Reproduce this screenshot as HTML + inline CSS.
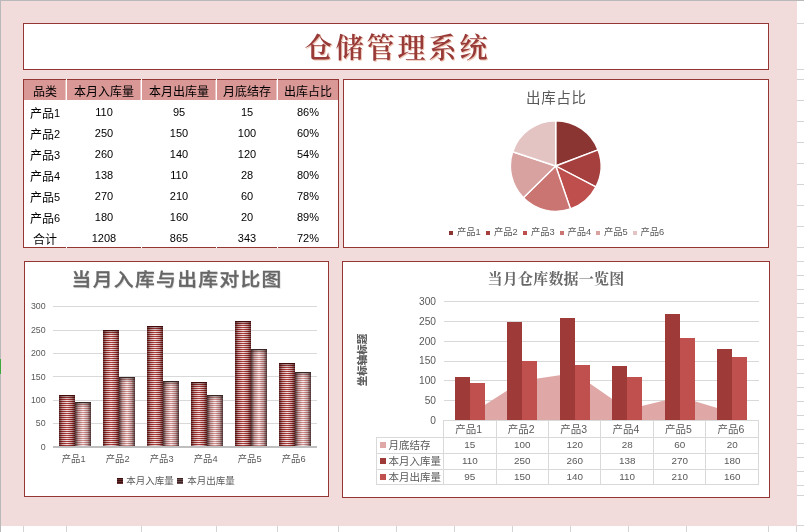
<!DOCTYPE html>
<html lang="zh-CN"><head><meta charset="utf-8"><title>仓储管理系统</title>
<style>
html,body{margin:0;padding:0;}
body{width:804px;height:532px;position:relative;overflow:hidden;background:#fff;font-family:"Liberation Sans","Noto Sans CJK SC",sans-serif;}
.a{position:absolute;}
.box{position:absolute;background:#fff;border:1px solid #943634;box-sizing:border-box;}
.hl{position:absolute;height:1px;background:#D4D4D4;}
.vl{position:absolute;width:1px;background:#D4D4D4;}
.th{position:absolute;top:80px;height:20px;background:#D99795;color:#000;font-size:12px;line-height:25px;overflow:hidden;text-align:center;white-space:nowrap;}
.td{position:absolute;height:21px;line-height:24px;font-size:12px;color:#000;text-align:center;white-space:nowrap;}
.n{font-size:11px;}
.c{position:relative;top:1.5px;}
.ax{position:absolute;font-size:9px;color:#595959;line-height:10px;white-space:nowrap;}
.gl{position:absolute;height:1px;background:#D9D9D9;}
.b1{position:absolute;background:linear-gradient(to bottom,rgba(40,0,0,.35),rgba(40,0,0,0) 4px),linear-gradient(to right,rgba(50,0,0,.72),rgba(60,0,0,.25) 22%,rgba(255,255,255,.08) 50%,rgba(60,0,0,.25) 78%,rgba(50,0,0,.72)),repeating-linear-gradient(to bottom,#F5DFDE 0,#F5DFDE 1px,#A5302E 1px,#A5302E 2px);border-top:1px solid #430a0a;box-sizing:border-box;}
.b2{position:absolute;background:linear-gradient(to bottom,rgba(30,10,10,.35),rgba(30,10,10,0) 4px),linear-gradient(to right,rgba(35,15,15,.78),rgba(60,20,20,.28) 22%,rgba(255,255,255,.08) 50%,rgba(60,20,20,.28) 78%,rgba(35,15,15,.78)),repeating-linear-gradient(to bottom,#FAEEEE 0,#FAEEEE 1px,#D08886 1px,#D08886 2px);border-top:1px solid #3a2525;box-sizing:border-box;}
.c1{position:absolute;background:#9E3B39;}
.c2{position:absolute;background:#C0504D;}
.dt{position:absolute;font-size:10.5px;color:#595959;line-height:16px;text-align:center;white-space:nowrap;}
</style></head><body>

<div class="a" style="left:0;top:0;width:804px;height:1px;background:#B9B9B9"></div>
<div class="a" style="left:0;top:0;width:1px;height:532px;background:#B9B9B9"></div>
<div class="a" style="left:0;top:359px;width:1px;height:15px;background:#3DA93D"></div>
<div class="hl" style="left:797px;top:23px;width:7px"></div>
<div class="hl" style="left:797px;top:69px;width:7px"></div>
<div class="hl" style="left:797px;top:79px;width:7px"></div>
<div class="hl" style="left:797px;top:100px;width:7px"></div>
<div class="hl" style="left:797px;top:121px;width:7px"></div>
<div class="hl" style="left:797px;top:142px;width:7px"></div>
<div class="hl" style="left:797px;top:163px;width:7px"></div>
<div class="hl" style="left:797px;top:184px;width:7px"></div>
<div class="hl" style="left:797px;top:205px;width:7px"></div>
<div class="hl" style="left:797px;top:226px;width:7px"></div>
<div class="hl" style="left:797px;top:247px;width:7px"></div>
<div class="hl" style="left:797px;top:261px;width:7px"></div>
<div class="hl" style="left:797px;top:275px;width:7px"></div>
<div class="hl" style="left:797px;top:289px;width:7px"></div>
<div class="hl" style="left:797px;top:303px;width:7px"></div>
<div class="hl" style="left:797px;top:317px;width:7px"></div>
<div class="hl" style="left:797px;top:331px;width:7px"></div>
<div class="hl" style="left:797px;top:345px;width:7px"></div>
<div class="hl" style="left:797px;top:359px;width:7px"></div>
<div class="hl" style="left:797px;top:373px;width:7px"></div>
<div class="hl" style="left:797px;top:387px;width:7px"></div>
<div class="hl" style="left:797px;top:401px;width:7px"></div>
<div class="hl" style="left:797px;top:415px;width:7px"></div>
<div class="hl" style="left:797px;top:429px;width:7px"></div>
<div class="hl" style="left:797px;top:443px;width:7px"></div>
<div class="hl" style="left:797px;top:457px;width:7px"></div>
<div class="hl" style="left:797px;top:471px;width:7px"></div>
<div class="hl" style="left:797px;top:485px;width:7px"></div>
<div class="hl" style="left:797px;top:495px;width:7px"></div>
<div class="hl" style="left:797px;top:525px;width:7px"></div>
<div class="vl" style="left:23px;top:526px;height:6px"></div>
<div class="vl" style="left:66px;top:526px;height:6px"></div>
<div class="vl" style="left:141px;top:526px;height:6px"></div>
<div class="vl" style="left:216px;top:526px;height:6px"></div>
<div class="vl" style="left:277px;top:526px;height:6px"></div>
<div class="vl" style="left:338px;top:526px;height:6px"></div>
<div class="vl" style="left:396px;top:526px;height:6px"></div>
<div class="vl" style="left:454px;top:526px;height:6px"></div>
<div class="vl" style="left:512px;top:526px;height:6px"></div>
<div class="vl" style="left:570px;top:526px;height:6px"></div>
<div class="vl" style="left:628px;top:526px;height:6px"></div>
<div class="vl" style="left:686px;top:526px;height:6px"></div>
<div class="vl" style="left:768px;top:526px;height:6px"></div>
<div class="vl" style="left:796px;top:526px;height:6px"></div>
<div class="a" style="left:1px;top:1px;width:796px;height:525px;background:#F2DCDB"></div>
<div class="box" style="left:23px;top:23px;width:746px;height:47px"></div>
<div class="a" id="title" style="left:23px;top:23px;width:746px;height:47px;line-height:52.5px;text-align:center;font-family:'Liberation Serif','Noto Serif CJK SC',serif;font-weight:600;font-size:28px;letter-spacing:3px;text-indent:3px;color:#983A38;text-shadow:1px 1px 0 rgba(236,190,170,.9);white-space:nowrap">仓储管理系统</div>
<div class="box" style="left:23px;top:79px;width:316px;height:169px"></div>
<div class="th" style="left:24px;width:42px">品类</div>
<div class="th" style="left:67px;width:74px">本月入库量</div>
<div class="th" style="left:142px;width:74px">本月出库量</div>
<div class="th" style="left:217px;width:60px">月底结存</div>
<div class="th" style="left:278px;width:60px">出库占比</div>
<div class="a" style="left:66px;top:79px;width:1px;height:169px;background:#fff"></div>
<div class="a" style="left:65px;top:80px;width:1px;height:20px;background:rgba(255,255,255,.45)"></div>
<div class="a" style="left:141px;top:79px;width:1px;height:169px;background:#fff"></div>
<div class="a" style="left:140px;top:80px;width:1px;height:20px;background:rgba(255,255,255,.45)"></div>
<div class="a" style="left:216px;top:79px;width:1px;height:169px;background:#fff"></div>
<div class="a" style="left:215px;top:80px;width:1px;height:20px;background:rgba(255,255,255,.45)"></div>
<div class="a" style="left:277px;top:79px;width:1px;height:169px;background:#fff"></div>
<div class="a" style="left:276px;top:80px;width:1px;height:20px;background:rgba(255,255,255,.45)"></div>
<div class="td" style="left:24px;top:100px;width:42px"><span class="c">产品</span><span class="n c" style="top:1px">1</span></div>
<div class="td n" style="left:67px;top:100px;width:74px">110</div>
<div class="td n" style="left:142px;top:100px;width:74px">95</div>
<div class="td n" style="left:217px;top:100px;width:60px">15</div>
<div class="td n" style="left:278px;top:100px;width:60px">86%</div>
<div class="td" style="left:24px;top:121px;width:42px"><span class="c">产品</span><span class="n c" style="top:1px">2</span></div>
<div class="td n" style="left:67px;top:121px;width:74px">250</div>
<div class="td n" style="left:142px;top:121px;width:74px">150</div>
<div class="td n" style="left:217px;top:121px;width:60px">100</div>
<div class="td n" style="left:278px;top:121px;width:60px">60%</div>
<div class="td" style="left:24px;top:142px;width:42px"><span class="c">产品</span><span class="n c" style="top:1px">3</span></div>
<div class="td n" style="left:67px;top:142px;width:74px">260</div>
<div class="td n" style="left:142px;top:142px;width:74px">140</div>
<div class="td n" style="left:217px;top:142px;width:60px">120</div>
<div class="td n" style="left:278px;top:142px;width:60px">54%</div>
<div class="td" style="left:24px;top:163px;width:42px"><span class="c">产品</span><span class="n c" style="top:1px">4</span></div>
<div class="td n" style="left:67px;top:163px;width:74px">138</div>
<div class="td n" style="left:142px;top:163px;width:74px">110</div>
<div class="td n" style="left:217px;top:163px;width:60px">28</div>
<div class="td n" style="left:278px;top:163px;width:60px">80%</div>
<div class="td" style="left:24px;top:184px;width:42px"><span class="c">产品</span><span class="n c" style="top:1px">5</span></div>
<div class="td n" style="left:67px;top:184px;width:74px">270</div>
<div class="td n" style="left:142px;top:184px;width:74px">210</div>
<div class="td n" style="left:217px;top:184px;width:60px">60</div>
<div class="td n" style="left:278px;top:184px;width:60px">78%</div>
<div class="td" style="left:24px;top:205px;width:42px"><span class="c">产品</span><span class="n c" style="top:1px">6</span></div>
<div class="td n" style="left:67px;top:205px;width:74px">180</div>
<div class="td n" style="left:142px;top:205px;width:74px">160</div>
<div class="td n" style="left:217px;top:205px;width:60px">20</div>
<div class="td n" style="left:278px;top:205px;width:60px">89%</div>
<div class="td" style="left:24px;top:226px;width:42px"><span class="c">合计</span></div>
<div class="td n" style="left:67px;top:226px;width:74px">1208</div>
<div class="td n" style="left:142px;top:226px;width:74px">865</div>
<div class="td n" style="left:217px;top:226px;width:60px">343</div>
<div class="td n" style="left:278px;top:226px;width:60px">72%</div>
<div class="box" style="left:343px;top:79px;width:426px;height:169px"></div>
<div class="a" id="ptitle" style="left:456px;top:87.6px;width:200px;height:20px;line-height:20px;text-align:center;font-size:14.5px;letter-spacing:0.7px;text-indent:0.7px;color:#595959;white-space:nowrap">出库占比</div>
<svg class="a" style="left:343px;top:79px" width="426" height="169" viewBox="343 79 426 169"><path d="M555.7 166L555.70 120.70A45.3 45.3 0 0 1 598.06 149.96Z" fill="#8B3533" stroke="#fff" stroke-width="1.4" stroke-linejoin="round"/><path d="M555.7 166L598.06 149.96A45.3 45.3 0 0 1 595.85 186.98Z" fill="#A5403E" stroke="#fff" stroke-width="1.4" stroke-linejoin="round"/><path d="M555.7 166L595.85 186.98A45.3 45.3 0 0 1 570.39 208.85Z" fill="#BE4F4C" stroke="#fff" stroke-width="1.4" stroke-linejoin="round"/><path d="M555.7 166L570.39 208.85A45.3 45.3 0 0 1 523.39 197.75Z" fill="#CB7573" stroke="#fff" stroke-width="1.4" stroke-linejoin="round"/><path d="M555.7 166L523.39 197.75A45.3 45.3 0 0 1 512.70 151.76Z" fill="#D8A2A1" stroke="#fff" stroke-width="1.4" stroke-linejoin="round"/><path d="M555.7 166L512.70 151.76A45.3 45.3 0 0 1 555.70 120.70Z" fill="#E4C3C3" stroke="#fff" stroke-width="1.4" stroke-linejoin="round"/></svg>
<div class="a" style="left:449px;top:231px;width:4px;height:4px;background:#8B3533"></div>
<div class="ax" style="left:457px;top:227px;font-size:9.3px">产品1</div>
<div class="a" style="left:486px;top:231px;width:4px;height:4px;background:#A5403E"></div>
<div class="ax" style="left:494px;top:227px;font-size:9.3px">产品2</div>
<div class="a" style="left:523px;top:231px;width:4px;height:4px;background:#BE4F4C"></div>
<div class="ax" style="left:531px;top:227px;font-size:9.3px">产品3</div>
<div class="a" style="left:559.5px;top:231px;width:4px;height:4px;background:#CB7573"></div>
<div class="ax" style="left:567.5px;top:227px;font-size:9.3px">产品4</div>
<div class="a" style="left:596px;top:231px;width:4px;height:4px;background:#D8A2A1"></div>
<div class="ax" style="left:604px;top:227px;font-size:9.3px">产品5</div>
<div class="a" style="left:632.5px;top:231px;width:4px;height:4px;background:#E4C3C3"></div>
<div class="ax" style="left:640.5px;top:227px;font-size:9.3px">产品6</div>
<div class="box" style="left:24px;top:261px;width:305px;height:236px"></div>
<div class="a" id="ltitle" style="left:24px;top:267px;width:305px;height:26px;line-height:26px;text-align:center;font-size:18.4px;font-weight:500;letter-spacing:1.25px;text-indent:1.25px;transform:scaleX(1.075);color:#666;-webkit-text-stroke:0.3px #666;text-shadow:0.6px 0.8px 1px rgba(0,0,0,.16);white-space:nowrap">当月入库与出库对比图</div>
<div class="gl" style="left:53px;top:423px;width:264px"></div>
<div class="gl" style="left:53px;top:400px;width:264px"></div>
<div class="gl" style="left:53px;top:376px;width:264px"></div>
<div class="gl" style="left:53px;top:353px;width:264px"></div>
<div class="gl" style="left:53px;top:330px;width:264px"></div>
<div class="gl" style="left:53px;top:306px;width:264px"></div>
<div class="ax" style="left:26px;top:441.7px;width:19.6px;text-align:right;font-size:8.8px">0</div>
<div class="ax" style="left:26px;top:418.3px;width:19.6px;text-align:right;font-size:8.8px">50</div>
<div class="ax" style="left:26px;top:394.9px;width:19.6px;text-align:right;font-size:8.8px">100</div>
<div class="ax" style="left:26px;top:371.5px;width:19.6px;text-align:right;font-size:8.8px">150</div>
<div class="ax" style="left:26px;top:348.1px;width:19.6px;text-align:right;font-size:8.8px">200</div>
<div class="ax" style="left:26px;top:324.7px;width:19.6px;text-align:right;font-size:8.8px">250</div>
<div class="ax" style="left:26px;top:301.3px;width:19.6px;text-align:right;font-size:8.8px">300</div>
<div class="b1" style="left:59px;top:395px;width:16px;height:52px"></div>
<div class="b2" style="left:75px;top:402px;width:16px;height:45px"></div>
<div class="ax" style="left:53.7px;top:454px;width:40px;text-align:center;font-size:9.3px">产品1</div>
<div class="b1" style="left:103px;top:330px;width:16px;height:117px"></div>
<div class="b2" style="left:119px;top:377px;width:16px;height:70px"></div>
<div class="ax" style="left:97.7px;top:454px;width:40px;text-align:center;font-size:9.3px">产品2</div>
<div class="b1" style="left:147px;top:326px;width:16px;height:121px"></div>
<div class="b2" style="left:163px;top:381px;width:16px;height:66px"></div>
<div class="ax" style="left:141.7px;top:454px;width:40px;text-align:center;font-size:9.3px">产品3</div>
<div class="b1" style="left:191px;top:382px;width:16px;height:65px"></div>
<div class="b2" style="left:207px;top:395px;width:16px;height:52px"></div>
<div class="ax" style="left:185.7px;top:454px;width:40px;text-align:center;font-size:9.3px">产品4</div>
<div class="b1" style="left:235px;top:321px;width:16px;height:126px"></div>
<div class="b2" style="left:251px;top:349px;width:16px;height:98px"></div>
<div class="ax" style="left:229.7px;top:454px;width:40px;text-align:center;font-size:9.3px">产品5</div>
<div class="b1" style="left:279px;top:363px;width:16px;height:84px"></div>
<div class="b2" style="left:295px;top:372px;width:16px;height:75px"></div>
<div class="ax" style="left:273.7px;top:454px;width:40px;text-align:center;font-size:9.3px">产品6</div>
<div class="a" style="left:53px;top:446px;width:264px;height:2px;background:#BFBFBF"></div>
<div class="a" style="left:117px;top:478px;width:6px;height:6px;background:repeating-linear-gradient(to bottom,#3a0e0e 0,#3a0e0e 1px,#6a3030 1px,#6a3030 2px)"></div>
<div class="ax" style="left:126.3px;top:475.5px;font-size:9.5px">本月入库量</div>
<div class="a" style="left:177px;top:478px;width:6px;height:6px;background:repeating-linear-gradient(to bottom,#3a2020 0,#3a2020 1px,#6a5050 1px,#6a5050 2px)"></div>
<div class="ax" style="left:187.3px;top:475.5px;font-size:9.5px">本月出库量</div>
<div class="box" style="left:342px;top:261px;width:428px;height:237px"></div>
<div class="a" id="rtitle" style="left:456px;top:268.5px;width:200px;height:20px;line-height:20px;text-align:center;font-family:'Liberation Serif','Noto Serif CJK SC',serif;font-weight:700;font-size:15px;letter-spacing:0.2px;color:#676767;white-space:nowrap">当月仓库数据一览图</div>
<div class="a" id="ytitle" style="left:332px;top:354px;width:60px;height:12px;line-height:12px;text-align:center;font-size:10.5px;font-weight:900;color:#5f5f5f;transform:rotate(-90deg);white-space:nowrap">坐标轴标题</div>
<div class="gl" style="left:444px;top:400px;width:315px"></div>
<div class="gl" style="left:444px;top:380px;width:315px"></div>
<div class="gl" style="left:444px;top:361px;width:315px"></div>
<div class="gl" style="left:444px;top:341px;width:315px"></div>
<div class="gl" style="left:444px;top:321px;width:315px"></div>
<div class="gl" style="left:444px;top:301px;width:315px"></div>
<div class="ax" style="left:406px;top:414.8px;width:30px;text-align:right;font-size:10.2px;line-height:11px">0</div>
<div class="ax" style="left:406px;top:395.0px;width:30px;text-align:right;font-size:10.2px;line-height:11px">50</div>
<div class="ax" style="left:406px;top:375.1px;width:30px;text-align:right;font-size:10.2px;line-height:11px">100</div>
<div class="ax" style="left:406px;top:355.3px;width:30px;text-align:right;font-size:10.2px;line-height:11px">150</div>
<div class="ax" style="left:406px;top:335.5px;width:30px;text-align:right;font-size:10.2px;line-height:11px">200</div>
<div class="ax" style="left:406px;top:315.7px;width:30px;text-align:right;font-size:10.2px;line-height:11px">250</div>
<div class="ax" style="left:406px;top:295.8px;width:30px;text-align:right;font-size:10.2px;line-height:11px">300</div>
<svg class="a" style="left:342px;top:261px" width="428" height="237" viewBox="342 261 428 237"><polygon points="469.8,420.5 469.8,414.5 522.3,380.8 574.8,372.9 627.3,409.4 679.8,396.7 732.2,412.6 732.2,420.5" fill="#DFA8A7"/></svg>
<div class="c1" style="left:455px;top:377px;width:15px;height:43px"></div>
<div class="c2" style="left:470px;top:383px;width:15px;height:37px"></div>
<div class="c1" style="left:507px;top:322px;width:15px;height:98px"></div>
<div class="c2" style="left:522px;top:361px;width:15px;height:59px"></div>
<div class="c1" style="left:560px;top:318px;width:15px;height:102px"></div>
<div class="c2" style="left:575px;top:365px;width:15px;height:55px"></div>
<div class="c1" style="left:612px;top:366px;width:15px;height:54px"></div>
<div class="c2" style="left:627px;top:377px;width:15px;height:43px"></div>
<div class="c1" style="left:665px;top:314px;width:15px;height:106px"></div>
<div class="c2" style="left:680px;top:338px;width:15px;height:82px"></div>
<div class="c1" style="left:717px;top:349px;width:15px;height:71px"></div>
<div class="c2" style="left:732px;top:357px;width:15px;height:63px"></div>
<div class="gl" style="left:443px;top:420px;width:316px"></div>
<div class="gl" style="left:376px;top:437px;width:383px"></div>
<div class="gl" style="left:376px;top:453px;width:383px"></div>
<div class="gl" style="left:376px;top:469px;width:383px"></div>
<div class="gl" style="left:376px;top:484px;width:383px"></div>
<div class="a" style="left:376px;top:437px;width:1px;height:48px;background:#D9D9D9"></div>
<div class="a" style="left:443px;top:420px;width:1px;height:65px;background:#D9D9D9"></div>
<div class="a" style="left:496px;top:420px;width:1px;height:65px;background:#D9D9D9"></div>
<div class="a" style="left:548px;top:420px;width:1px;height:65px;background:#D9D9D9"></div>
<div class="a" style="left:600px;top:420px;width:1px;height:65px;background:#D9D9D9"></div>
<div class="a" style="left:653px;top:420px;width:1px;height:65px;background:#D9D9D9"></div>
<div class="a" style="left:705px;top:420px;width:1px;height:65px;background:#D9D9D9"></div>
<div class="a" style="left:758px;top:420px;width:1px;height:65px;background:#D9D9D9"></div>
<div class="dt" style="left:442.4px;top:421px;width:52.48px">产品1</div>
<div class="dt" style="left:443.6px;top:437px;width:52.48px;font-size:9.9px">15</div>
<div class="dt" style="left:443.6px;top:453px;width:52.48px;font-size:9.9px">110</div>
<div class="dt" style="left:443.6px;top:469px;width:52.48px;font-size:9.9px">95</div>
<div class="dt" style="left:494.9px;top:421px;width:52.48px">产品2</div>
<div class="dt" style="left:496.1px;top:437px;width:52.48px;font-size:9.9px">100</div>
<div class="dt" style="left:496.1px;top:453px;width:52.48px;font-size:9.9px">250</div>
<div class="dt" style="left:496.1px;top:469px;width:52.48px;font-size:9.9px">150</div>
<div class="dt" style="left:547.4px;top:421px;width:52.48px">产品3</div>
<div class="dt" style="left:548.6px;top:437px;width:52.48px;font-size:9.9px">120</div>
<div class="dt" style="left:548.6px;top:453px;width:52.48px;font-size:9.9px">260</div>
<div class="dt" style="left:548.6px;top:469px;width:52.48px;font-size:9.9px">140</div>
<div class="dt" style="left:599.8px;top:421px;width:52.48px">产品4</div>
<div class="dt" style="left:601.0px;top:437px;width:52.48px;font-size:9.9px">28</div>
<div class="dt" style="left:601.0px;top:453px;width:52.48px;font-size:9.9px">138</div>
<div class="dt" style="left:601.0px;top:469px;width:52.48px;font-size:9.9px">110</div>
<div class="dt" style="left:652.3px;top:421px;width:52.48px">产品5</div>
<div class="dt" style="left:653.5px;top:437px;width:52.48px;font-size:9.9px">60</div>
<div class="dt" style="left:653.5px;top:453px;width:52.48px;font-size:9.9px">270</div>
<div class="dt" style="left:653.5px;top:469px;width:52.48px;font-size:9.9px">210</div>
<div class="dt" style="left:704.8px;top:421px;width:52.48px">产品6</div>
<div class="dt" style="left:706.0px;top:437px;width:52.48px;font-size:9.9px">20</div>
<div class="dt" style="left:706.0px;top:453px;width:52.48px;font-size:9.9px">180</div>
<div class="dt" style="left:706.0px;top:469px;width:52.48px;font-size:9.9px">160</div>
<div class="a" style="left:380px;top:442px;width:6px;height:6px;background:#DFA8A7"></div>
<div class="dt" style="left:388.5px;top:437px;text-align:left">月底结存</div>
<div class="a" style="left:380px;top:458px;width:6px;height:6px;background:#9E3B39"></div>
<div class="dt" style="left:388.5px;top:453px;text-align:left">本月入库量</div>
<div class="a" style="left:380px;top:474px;width:6px;height:6px;background:#C0504D"></div>
<div class="dt" style="left:388.5px;top:469px;text-align:left">本月出库量</div>
</body></html>
